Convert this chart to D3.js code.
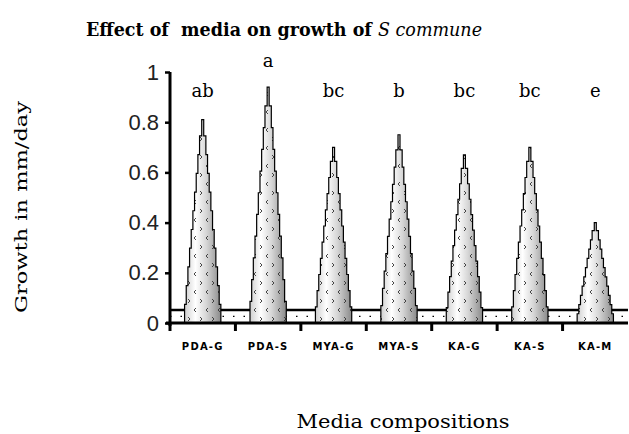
<!DOCTYPE html>
<html>
<head>
<meta charset="utf-8">
<script src="https://cdn.jsdelivr.net/npm/d3@7"></script>
<style>
  body { margin: 0; background: #fff; }
  svg { display: block; }
</style>
</head>
<body>
<div id="svg-holder"></div>
<script>
// chart values
const media = ["PDA-G", "PDA-S", "MYA-G", "MYA-S", "KA-G", "KA-S", "KA-M"];
const growth = [0.81, 0.94, 0.70, 0.75, 0.67, 0.70, 0.40];
const groups = ["ab", "a", "bc", "b", "bc", "bc", "e"];
const yTicks = [0, 0.2, 0.4, 0.6, 0.8, 1];
const yTickLabels = ["0", "0.2", "0.4", "0.6", "0.8", "1"];

const W = 629, H = 434;
const margin = {top: 72, right: 1, bottom: 111, left: 170};

const svg = d3.select("#svg-holder")
  .append("svg")
  .attr("width", W)
  .attr("height", H);

const defs = svg.append("defs");
const grad = defs.append("linearGradient").attr("id", "cone-grad")
  .attr("x1", "0%").attr("x2", "100%").attr("y1", "0%").attr("y2", "0%");
grad.append("stop").attr("offset", "0%").attr("stop-color", "#cfcfcf");
grad.append("stop").attr("offset", "30%").attr("stop-color", "#ffffff");
grad.append("stop").attr("offset", "60%").attr("stop-color", "#d6d6d6");
grad.append("stop").attr("offset", "100%").attr("stop-color", "#8a8a8a");

// little chevron marks like the original fill pattern
const pat = defs.append("pattern").attr("id", "cone-pat")
  .attr("patternUnits", "userSpaceOnUse")
  .attr("width", 12).attr("height", 18);
pat.append("path").attr("d", "M4,2 L2,4 L4,6").attr("fill", "none").attr("stroke", "#333").attr("stroke-width", 0.9);
pat.append("path").attr("d", "M8,11 L10,13 L8,15").attr("fill", "none").attr("stroke", "#333").attr("stroke-width", 0.9);

const x = d3.scaleBand()
  .domain(media)
  .range([margin.left, W - margin.right])
  .padding(0);

const y = d3.scaleLinear()
  .domain([0, 1])
  .range([H - margin.bottom, margin.top]);

// title
const title = svg.append("text")
  .attr("x", 284).attr("y", 36)
  .attr("text-anchor", "middle")
  .style("font-family", "'DejaVu Serif', 'Liberation Serif', serif")
  .style("font-size", "18px")
  .style("font-weight", "bold")
  .style("white-space", "pre")
  .attr("textLength", 396)
  .attr("lengthAdjust", "spacingAndGlyphs");
title.append("tspan").text("Effect of  media on growth of ");
title.append("tspan").style("font-weight", "normal").style("font-style", "italic").text("S commune");

// floor of the 3d plot
const floorY = y(0.052);
svg.append("line")
  .attr("x1", margin.left).attr("x2", W - margin.right)
  .attr("y1", floorY).attr("y2", floorY)
  .attr("stroke", "#000").attr("stroke-width", 2.5);
svg.append("line")
  .attr("x1", margin.left).attr("x2", W - margin.right)
  .attr("y1", y(0.026)).attr("y2", y(0.026))
  .attr("stroke", "#000").attr("stroke-width", 1.2)
  .attr("stroke-dasharray", "1.5,9");

// stepped cones
const steps = 10;
function conePath(cx, v) {
  const baseW = x.bandwidth() * 0.53;
  const pts = [];
  const top = v * 0.92;
  for (let i = 0; i < steps; i++) {
    const w = baseW * (1 - i / steps) * 0.96 + 3;
    const y0 = y(top * i / steps), y1 = y(top * (i + 1) / steps);
    pts.push([cx - w / 2, y0], [cx - w / 2, y1]);
  }
  const left = pts.slice();
  const right = pts.map(p => [2 * cx - p[0], p[1]]).reverse();
  const spike = [[cx - 1, y(top)], [cx - 1, y(v)], [cx + 1, y(v)], [cx + 1, y(top)]];
  return "M" + left.concat(spike, right).map(p => p.join(",")).join("L") + "Z";
}

const cones = svg.append("g");
media.forEach((m, i) => {
  const cx = x(m) + x.bandwidth() / 2;
  const d = conePath(cx, growth[i]);
  cones.append("path").attr("d", d).attr("fill", "url(#cone-grad)");
  cones.append("path").attr("d", d).attr("fill", "url(#cone-pat)")
    .attr("stroke", "#000").attr("stroke-width", 1.2);
  // significance letters
  cones.append("text")
    .attr("x", cx)
    .attr("y", y(Math.max(0.92, growth[i] + 0.1)) + 5)
    .attr("text-anchor", "middle")
    .style("font-family", "'DejaVu Serif', 'Liberation Serif', serif")
    .style("font-size", "18px")
    .text(groups[i]);
});

// y axis
const yAxis = svg.append("g")
  .attr("transform", "translate(" + margin.left + ",0)")
  .call(d3.axisLeft(y).tickValues(yTicks).tickFormat((d, i) => yTickLabels[i]).tickSize(5).tickPadding(6));
yAxis.select(".domain").attr("stroke-width", 3).attr("d", "M0," + y(1) + "V" + (y(0) + 3));
yAxis.selectAll(".tick line").attr("stroke-width", 2.5);
yAxis.selectAll(".tick text")
  .style("font-family", "'Liberation Sans', Arial, sans-serif")
  .style("font-size", "22px")
  .attr("fill", "#222");

// x axis
const xAxis = svg.append("g")
  .attr("transform", "translate(0," + y(0) + ")")
  .call(d3.axisBottom(x).tickSize(0).tickPadding(20));
xAxis.select(".domain").attr("stroke-width", 3).attr("d", "M" + (margin.left - 4) + ",0H" + (W - margin.right));
xAxis.selectAll(".tick text")
  .style("font-family", "'DejaVu Sans', sans-serif")
  .style("font-size", "10px")
  .style("font-weight", "bold")
  .style("letter-spacing", "1.2px");
// band boundary ticks
xAxis.append("g").selectAll("line")
  .data(media)
  .join("line")
  .attr("x1", d => x(d)).attr("x2", d => x(d))
  .attr("y1", 0).attr("y2", 8)
  .attr("stroke", "#000").attr("stroke-width", 3);

// axis titles
svg.append("text")
  .attr("transform", "translate(27,207) rotate(-90)")
  .attr("text-anchor", "middle")
  .style("font-family", "'DejaVu Serif', 'Liberation Serif', serif")
  .style("font-size", "16px")
  .attr("textLength", 212)
  .attr("lengthAdjust", "spacingAndGlyphs")
  .text("Growth in mm/day");

svg.append("text")
  .attr("x", 403).attr("y", 428)
  .attr("text-anchor", "middle")
  .style("font-family", "'DejaVu Serif', 'Liberation Serif', serif")
  .style("font-size", "19px")
  .attr("textLength", 213)
  .attr("lengthAdjust", "spacingAndGlyphs")
  .text("Media compositions");
</script>
</body>
</html>
